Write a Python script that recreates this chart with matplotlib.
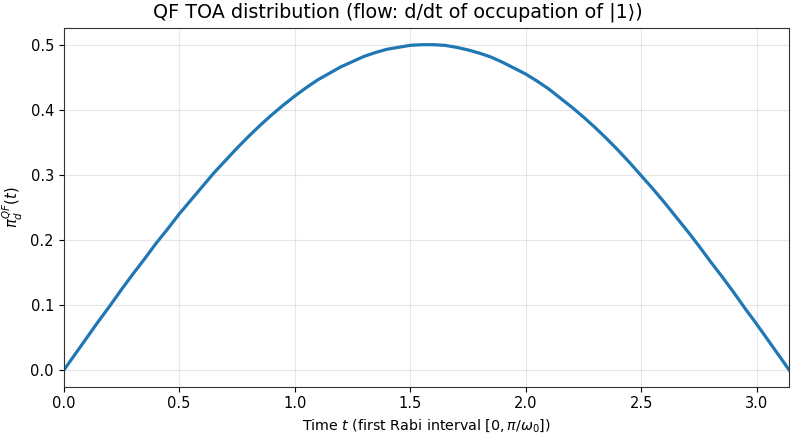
import matplotlib.pyplot as plt

# time points and QF TOA density
t = [0.0, 0.05, 0.1, 0.15, 0.2, 0.25, 0.3, 0.35, 0.4, 0.45, 0.5, 0.55, 0.6,
     0.65, 0.7, 0.75, 0.8, 0.85, 0.9, 0.95, 1.0, 1.05, 1.1, 1.15, 1.2, 1.25,
     1.3, 1.35, 1.4, 1.45, 1.5, 1.55, 1.6, 1.65, 1.7, 1.75, 1.8, 1.85, 1.9,
     1.95, 2.0, 2.05, 2.1, 2.15, 2.2, 2.25, 2.3, 2.35, 2.4, 2.45, 2.5, 2.55,
     2.6, 2.65, 2.7, 2.75, 2.8, 2.85, 2.9, 2.95, 3.0, 3.05, 3.1, 3.1416]
pi_qf = [0.0, 0.025, 0.050, 0.075, 0.099, 0.124, 0.148, 0.171, 0.195, 0.217,
         0.240, 0.261, 0.282, 0.303, 0.322, 0.341, 0.359, 0.376, 0.392, 0.407,
         0.421, 0.434, 0.446, 0.456, 0.466, 0.474, 0.482, 0.488, 0.493, 0.496,
         0.499, 0.500, 0.500, 0.499, 0.496, 0.492, 0.487, 0.481, 0.473, 0.464,
         0.455, 0.444, 0.432, 0.418, 0.404, 0.389, 0.373, 0.356, 0.338, 0.319,
         0.299, 0.279, 0.258, 0.236, 0.214, 0.191, 0.167, 0.144, 0.120, 0.095,
         0.071, 0.046, 0.021, 0.0]

fig, ax = plt.subplots(figsize=(7.95, 4.37), dpi=100)

ax.plot(t, pi_qf, color="#1f77b4", linewidth=2.3)

ax.set_xlim(0, 3.1416)
ax.set_ylim(-0.025, 0.525)
ax.grid(True, alpha=0.3)
ax.tick_params(labelsize=10.5)
for s in ax.spines.values():
    s.set_color("#333333")

fig.suptitle("QF TOA distribution (flow: d/dt of occupation of |1\u27e9)",
             fontsize=13.8, y=0.995)
ax.set_xlabel(r"Time $t$ (first Rabi interval $[0,\pi/\omega_0]$)", fontsize=10.3)
ax.set_ylabel(r"$\pi_d^{QF}(t)$", fontsize=10.5)

fig.subplots_adjust(left=0.08, right=0.993, top=0.935, bottom=0.115)
fig.savefig("out.png", dpi=100)
